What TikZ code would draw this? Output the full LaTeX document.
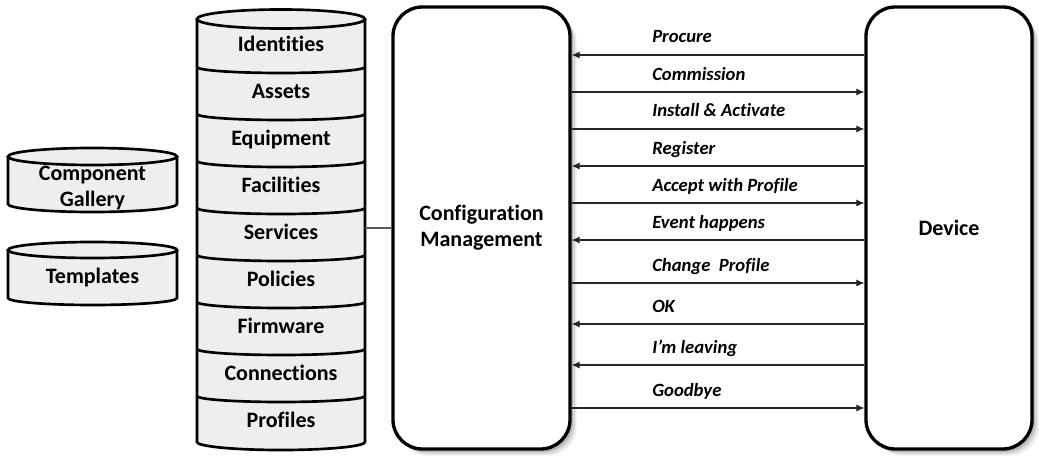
\documentclass[tikz,border=0pt]{standalone}
\usepackage{fontspec}
\setmainfont{Carlito}[Ligatures={NoCommon,NoContextual}]
\usetikzlibrary{arrows.meta}

% Open cylinder body: left x, right x, top y, bottom y, top radius, bottom radius
\newcommand\dbbody[6]{%
  \pgfmathsetmacro\dbcx{(#1+#2)/2}\pgfmathsetmacro\dbrx{(#2-#1)/2}%
  \fill[dbfill] (#1,-#3) -- (#1,-#4)
    arc[start angle=180,end angle=360,x radius=\dbrx,y radius=#6]
    -- (#2,-#3) arc[start angle=0,end angle=180,x radius=\dbrx,y radius=#5] -- cycle;
  \draw[dbline] (#1,-#3) -- (#1,-#4)
    arc[start angle=180,end angle=360,x radius=\dbrx,y radius=#6] -- (#2,-#3);
  \draw[dbline,dbfill] (\dbcx,-#3) ellipse[x radius=\dbrx,y radius=#5];
}

\begin{document}
\begin{tikzpicture}[x=0.75pt,y=0.75pt,
  dbfill/.style={fill=gray!13},
  dbline/.style={line width=2pt,draw=black},
  lbl/.style={font=\fontsize{16.5}{19}\selectfont\bfseries,align=center,inner sep=0pt},
  msg/.style={font=\fontsize{14}{16}\selectfont\bfseries\itshape,anchor=base west,inner sep=0pt},
  msgline/.style={line width=0.9pt,draw=black!85},
  inbound/.style={{Latex[length=6pt,width=5.5pt]}-},
  outbound/.style={-{Latex[length=6pt,width=5.5pt]}},
  link/.style={line width=0.9pt,draw=black!65},
  box/.style={draw,line width=2.5pt,rounded corners=22pt,fill=white,inner sep=0pt,
    lbl,font=\fontsize{16.5}{19.5}\selectfont\bfseries,
    preaction={fill=black,opacity=0.07,transform canvas={shift={(5pt,-5pt)}}},
    preaction={fill=black,opacity=0.10,transform canvas={shift={(3.6pt,-3.6pt)}}},
    preaction={fill=black,opacity=0.14,transform canvas={shift={(2.2pt,-2.2pt)}}}},
]
\useasboundingbox (0,0) rectangle (1039,-460);

% ---- component gallery and templates ----
\dbbody{8}{177}{156.5}{204}{8.5}{8}
\node[lbl] (gallery) at (92.5,-188) {Component\\Gallery};
\dbbody{8}{177}{250}{298}{8}{7}
\node[lbl,anchor=base] (templates) at (92.5,-283) {Templates};

% ---- stacked data store ----
\dbbody{197}{365}{19}{442}{9.5}{8}
\foreach \yy in {67,114,161,208,255,302,349,396}
  \draw[dbline] (197,-\yy) arc[start angle=180,end angle=360,x radius=84,y radius=6];
\node[inner sep=0pt,minimum width=126pt,minimum height=324pt] (stack) at (281,-229) {};
\foreach \t [count=\i from 0] in {Identities,Assets,Equipment,Facilities,Services,Policies,Firmware,Connections,Profiles}
  \node[lbl,anchor=base] (store\i) at (281,-51.5-47*\i) {\t};

% ---- configuration management and device ----
\node[box,minimum width=132.75pt,minimum height=331.5pt] (cm) at (481.5,-228)
  {Configuration\\Management};
\node[box,minimum width=124.5pt,minimum height=331.5pt] (dev) at (949,-228) {Device};

\draw[link] (stack.east |- cm.west) -- (cm.west);

% ---- message exchange ----
\foreach \ay/\txt/\dir [count=\i] in {
    55/Procure/inbound,
    92/Commission/outbound,
    129/Install \& Activate/outbound,
    166/Register/inbound,
    203/Accept with Profile/outbound,
    240/Event happens/inbound,
    283/Change\ \ Profile/outbound,
    324/OK/inbound,
    365/I’m leaving/inbound,
    408/Goodbye/outbound}
{
  \node[msg] (msg\i) at (652,-\ay+12) {\txt};
  \draw[msgline,\dir] (cm.east |- 0,-\ay) -- (dev.west |- 0,-\ay);
}
\end{tikzpicture}
\end{document}
